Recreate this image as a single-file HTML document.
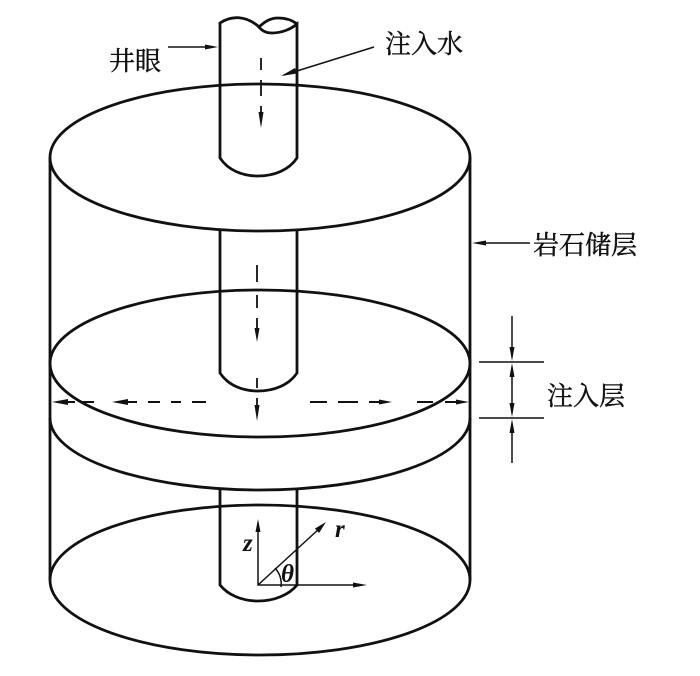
<!DOCTYPE html>
<html><head><meta charset="utf-8">
<style>
html,body{margin:0;padding:0;background:#fff;width:700px;height:676px;overflow:hidden}
svg{display:block}
text.c{font-family:"Liberation Serif","Noto Serif CJK SC",serif;font-size:26px;fill:#111;stroke:#111;stroke-width:.45px}
text.i{font-family:"Liberation Serif",serif;font-style:italic;font-weight:bold;font-size:25px;fill:#111}
</style></head><body>
<svg width="700" height="676" viewBox="0 0 700 676" xmlns="http://www.w3.org/2000/svg">
<g fill="none" stroke="#111" stroke-width="2.8">
<ellipse cx="260" cy="157.500" rx="210" ry="73.500"/>
<ellipse cx="260" cy="363.500" rx="210" ry="73.500"/>
<ellipse cx="260" cy="580" rx="210" ry="75"/>
<path d="M50 418 A210 72 0 0 0 470 418"/>
<path d="M50 157V580M470 157V580"/>
<path d="M220 158V23C232 15 246 16 258 26C262 31 266 33 272 33C282 33 291 29 297 24V158C289 170 274 176 258 176C242 176 228 170 220 158Z"/>
<path d="M258 28C264 22 270 18 278 18C286 18 292 20 297 24"/>
<path d="M220 231V373C228 385 242 391 258 391C274 391 289 385 297 373V231"/>
<path d="M220 490V585C228 595 242 601 258 601C274 601 289 595 297 585V490"/>
</g>
<g fill="none" stroke="#111" stroke-width="1.500">
<path d="M168 47H210M530 243H480M284 75L374 47"/>
<path d="M512 316V352M512 372V408M512 430V463"/>
<path d="M479 362H544M479 418H544"/>
<path d="M258 525V585H355M258 585L320 528"/>
<path d="M281 587A24 24 0 0 0 275 568"/>
</g>
<g fill="none" stroke="#111" stroke-width="1.800">
<path d="M261 58V70M261 80V96M261 106V116"/>
<path d="M257 265V282M257 295V308M257 318V332M257 378V388M257 398V408"/>
<path d="M60 402H75M82 402H94M120 402H137M148 402H160M171 402H181M192 402H206M310 402H327M338 402H358M369 402H382M417 402H433M445 402H460" stroke-width="2"/>
</g>
<g fill="#111" stroke="none">
<path d="M218 47L205 44.500V49.500Z"/>
<path d="M472 243L486 240.500V245.500Z"/>
<path d="M281 76L295 68L297 73.500Z"/>
<path d="M261 128L258.500 112H263.500Z"/>
<path d="M257 342L254.500 328H259.500Z"/>
<path d="M257 421L254.500 405H259.500Z"/>
<path d="M52 402L68 399V405Z"/>
<path d="M112 402L128 399V405Z"/>
<path d="M392 402L379 399.500V404.500Z"/>
<path d="M469 402L456 399.500V404.500Z"/>
<path d="M512 361L509.500 347H514.500Z"/>
<path d="M512 363L509.500 377H514.500Z"/>
<path d="M512 417L509.500 403H514.500Z"/>
<path d="M512 419L509.500 433H514.500Z"/>
<path d="M258 519L255.500 532H260.500Z"/>
<path d="M326 522L315 528.500L319 533Z"/>
<path d="M367 585L353 582.500V587.500Z"/>
</g>
<text class="c" x="109" y="70">井眼</text>
<text class="c" x="385" y="53">注入水</text>
<text class="c" x="533" y="254">岩石储层</text>
<text class="c" x="547" y="405">注入层</text>
<text class="i" x="243" y="551">z</text>
<text class="i" x="335" y="537">r</text>
<text class="i" x="281" y="582">θ</text>
</svg>
</body></html>
